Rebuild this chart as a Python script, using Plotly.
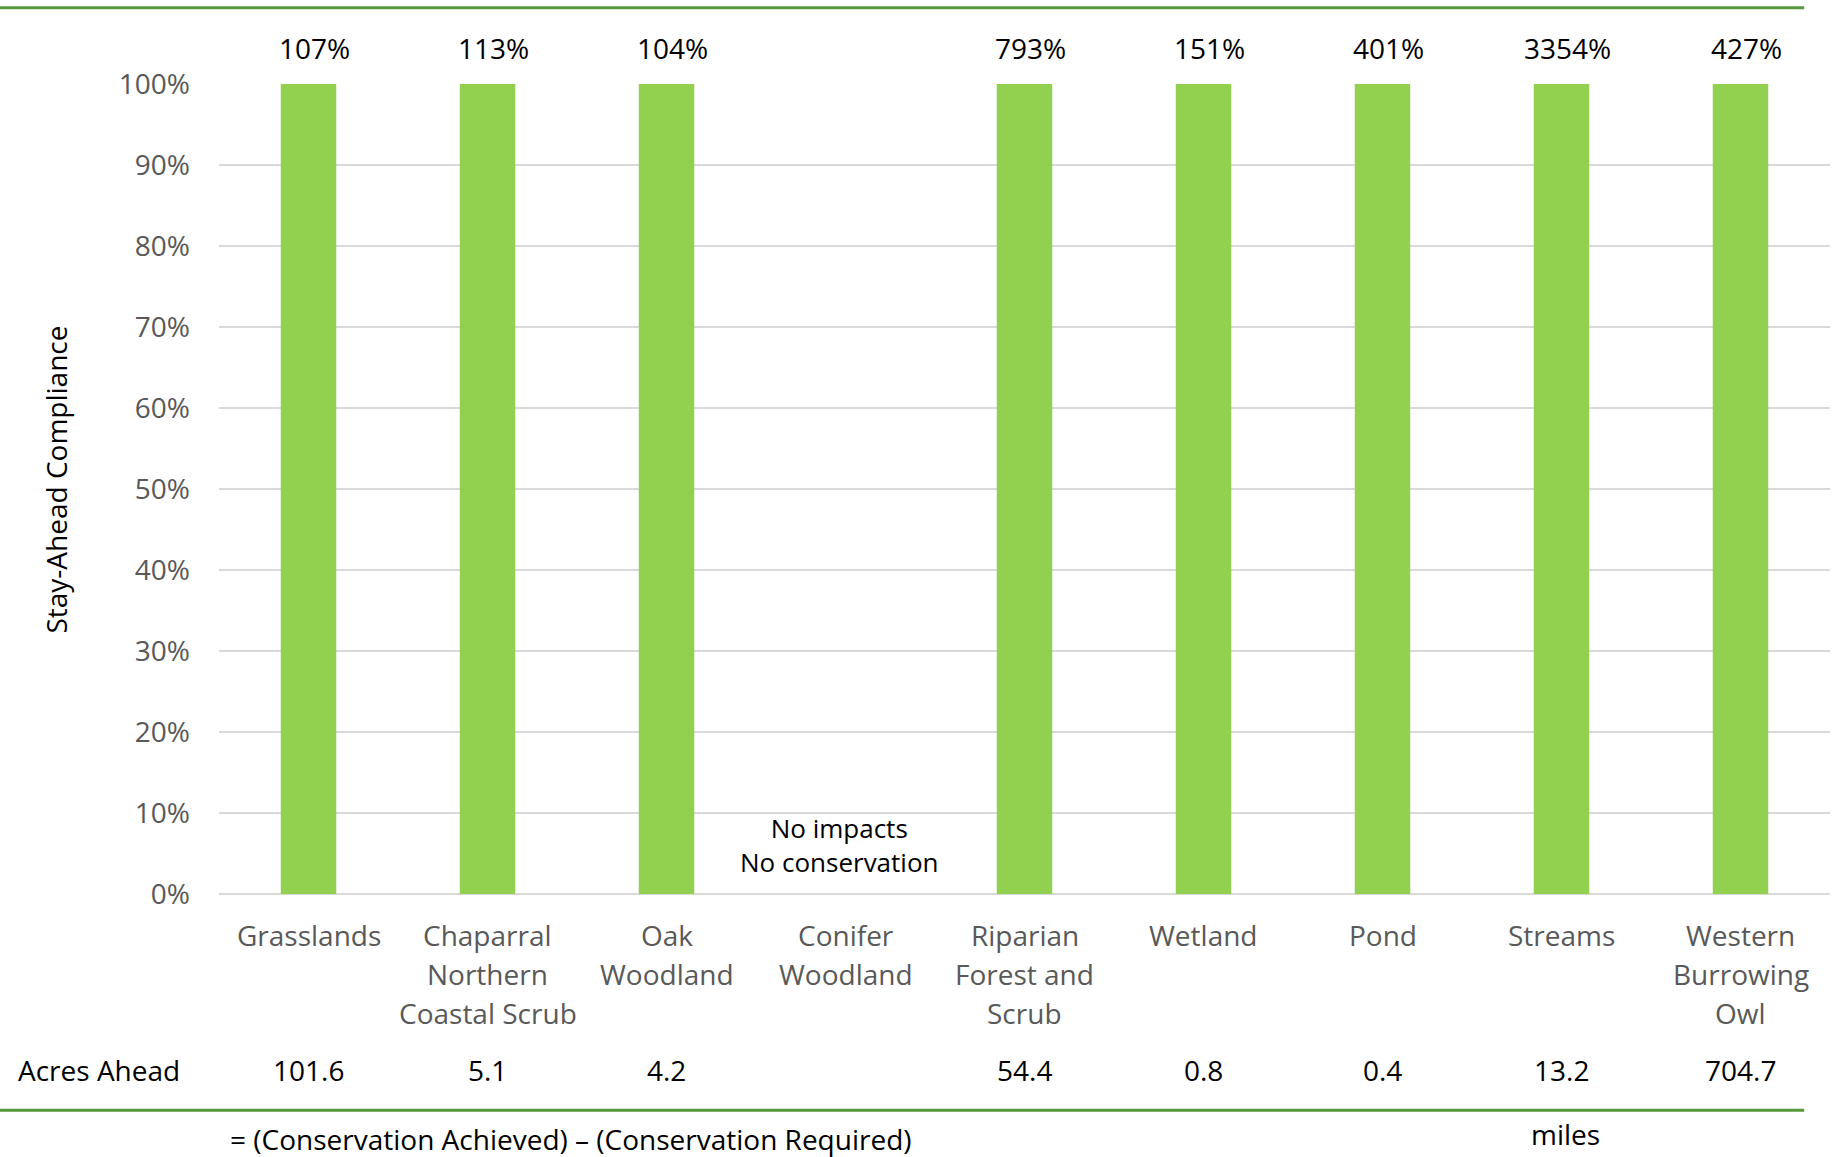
import plotly.graph_objects as go

# Habitat / species categories (line breaks as displayed under the axis)
categories = [
    "Grasslands",
    "Chaparral<br>Northern<br>Coastal Scrub",
    "Oak<br>Woodland",
    "Conifer<br>Woodland",
    "Riparian<br>Forest and<br>Scrub",
    "Wetland",
    "Pond",
    "Streams",
    "Western<br>Burrowing<br>Owl",
]

# Stay-ahead compliance (fraction); None = no impacts and no conservation
compliance = [1.07, 1.13, 1.04, None, 7.93, 1.51, 4.01, 33.54, 4.27]

# Acres ahead = conservation achieved - conservation required
acres_ahead = ["101.6", "5.1", "4.2", "", "54.4", "0.8", "0.4", "13.2", "704.7"]

y_ticks = [0, 0.1, 0.2, 0.3, 0.4, 0.5, 0.6, 0.7, 0.8, 0.9, 1.0]
y_tick_text = ["0%", "10%", "20%", "30%", "40%", "50%", "60%", "70%", "80%", "90%", "100%"]

BAR_GREEN = "#92D050"
RULE_GREEN = "#55993A"
GRID = "#D9D9D9"
GREY_TEXT = "#595959"
FONT = "Open Sans, DejaVu Sans, sans-serif"
SIZE = 28

fig = go.Figure()
fig.add_trace(go.Bar(
    x=categories,
    y=compliance,
    marker=dict(color=BAR_GREEN, line=dict(width=0)),
    hoverinfo="skip",
))

annotations = []

# Compliance percentages shown above the clipped 100% bars
for cat, val in zip(categories, compliance):
    if val is None:
        continue
    annotations.append(dict(
        x=cat, y=1.045, xref="x", yref="paper", xshift=6,
        text=f"{round(val * 100)}%", showarrow=False,
        font=dict(size=SIZE, color="#000000", family=FONT),
        xanchor="center", yanchor="middle",
    ))

# Category labels, one annotation per line for wider line spacing
for cat in categories:
    for i, line in enumerate(cat.split("<br>")):
        annotations.append(dict(
            x=cat, y=0, xref="x", yref="paper",
            text=line, showarrow=False, yshift=-41 - 39 * i,
            font=dict(size=SIZE, color=GREY_TEXT, family=FONT),
            xanchor="center", yanchor="middle",
        ))

# Acres ahead row
for cat, val in zip(categories, acres_ahead):
    if not val:
        continue
    annotations.append(dict(
        x=cat, y=-0.2173, xref="x", yref="paper",
        text=val, showarrow=False,
        font=dict(size=SIZE, color="#000000", family=FONT),
        xanchor="center", yanchor="middle",
    ))

annotations += [
    dict(x=-0.126, y=-0.2173, xref="paper", yref="paper", text="Acres Ahead",
         showarrow=False, xanchor="left", yanchor="middle",
         font=dict(size=SIZE, color="#000000", family=FONT)),
    dict(x=0.2185, y=-0.3025, xref="paper", yref="paper",
         text="= (Conservation Achieved) \u2013 (Conservation Required)",
         showarrow=False, xanchor="center", yanchor="middle",
         font=dict(size=SIZE, color="#000000", family=FONT)),
    dict(x=0.836, y=-0.2963, xref="paper", yref="paper", text="miles",
         showarrow=False, xanchor="center", yanchor="middle",
         font=dict(size=SIZE, color="#000000", family=FONT)),
    dict(x=categories[3], y=0.06, xref="x", yref="y", xshift=-7,
         text="No impacts<br>No conservation", showarrow=False,
         xanchor="center", yanchor="middle",
         font=dict(size=26, color="#000000", family=FONT)),
    dict(x=-0.1012, y=0.5116, xref="paper", yref="paper",
         text="Stay-Ahead Compliance", textangle=-90, showarrow=False,
         xanchor="center", yanchor="middle",
         font=dict(size=SIZE, color="#000000", family=FONT)),
]

# Green rules above and below the chart
shapes = [
    dict(type="line", xref="paper", yref="paper", x0=-0.136, x1=0.984,
         y0=1.094, y1=1.094, line=dict(color=RULE_GREEN, width=3)),
    dict(type="line", xref="paper", yref="paper", x0=-0.136, x1=0.984,
         y0=-0.267, y1=-0.267, line=dict(color=RULE_GREEN, width=3)),
]

fig.update_layout(
    width=1837, height=1157,
    margin=dict(l=219, r=7, t=84, b=263, pad=0),
    paper_bgcolor="#FFFFFF", plot_bgcolor="#FFFFFF",
    showlegend=False,
    bargap=0.69,
    font=dict(family=FONT, size=SIZE, color=GREY_TEXT),
    annotations=annotations,
    shapes=shapes,
)
fig.update_xaxes(
    type="category", showticklabels=False, showgrid=False, zeroline=False,
    showline=False, ticks="",
)
fig.update_yaxes(
    range=[0, 1.0], tickvals=y_ticks, ticktext=y_tick_text,
    showgrid=True, gridcolor=GRID, gridwidth=2,
    zeroline=True, zerolinecolor=GRID, zerolinewidth=2,
    showline=False, ticks="", ticklabelstandoff=28,
    tickfont=dict(size=SIZE, color=GREY_TEXT, family=FONT),
)

fig.write_html("out.html")
